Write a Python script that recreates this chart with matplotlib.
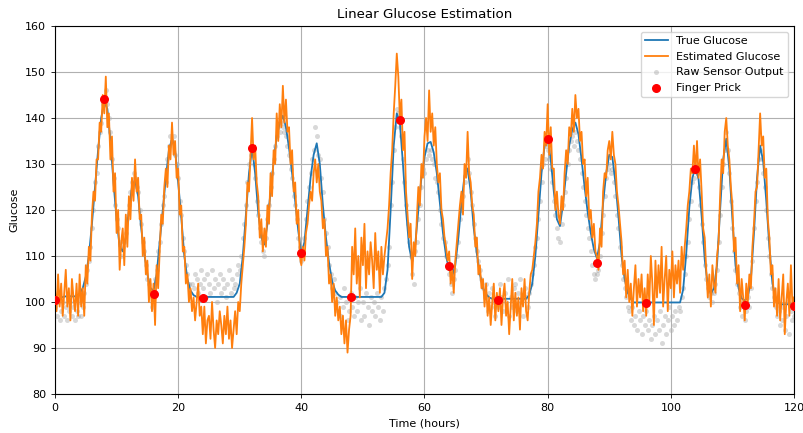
import numpy as np
import matplotlib
matplotlib.use("Agg")
import matplotlib.pyplot as plt

# true glucose (hours, mg/dL)
true_t = [0, 1, 2, 3, 3.5, 4, 4.5, 5, 5.5, 6, 6.5, 7, 7.5, 8, 8.5, 9, 9.5, 10, 10.5, 11, 11.5,
          12, 12.5, 13, 13.5, 14, 14.5, 15, 15.5, 16, 16.5, 17, 17.5, 18, 18.5, 19, 19.5, 20,
          20.5, 21, 21.5, 22, 22.5, 23, 29, 29.5, 30, 30.5, 31, 31.5, 32, 32.5, 33, 33.5, 34,
          34.5, 35, 35.5, 36, 36.5, 37, 37.5, 38, 38.5, 39, 39.5, 40, 40.5, 41, 41.5, 42, 42.5,
          43, 43.5, 44, 44.5, 45, 45.5, 46, 46.5, 53, 53.5, 54, 54.5, 55, 55.5, 56, 56.5, 57,
          57.5, 58, 58.5, 59, 59.5, 60, 60.5, 61, 61.5, 62, 62.5, 63, 63.5, 64, 64.5, 65, 65.5,
          66, 66.5, 67, 67.5, 68, 68.5, 69, 69.5, 70, 70.5, 71, 76.5, 77, 77.5, 78, 78.5, 79,
          79.5, 80, 80.5, 81, 81.5, 82, 82.5, 83, 83.5, 84, 84.5, 85, 85.5, 86, 86.5, 87, 87.5,
          88, 88.5, 89, 89.5, 90, 90.5, 91, 91.5, 92, 92.5, 93, 93.5, 94, 101.5, 102, 102.5,
          103, 103.5, 104, 104.5, 105, 105.5, 106, 106.5, 107, 107.5, 108, 108.5, 109, 109.5,
          110, 110.5, 111, 111.5, 112, 112.5, 113, 113.5, 114, 114.5, 115, 115.5, 116, 116.5,
          117, 117.5, 118, 120]
true_v = [100.5, 101, 101.3, 101.2, 101.3, 101.8, 103, 105.5, 110, 117, 125, 133, 140, 143.5, 142,
          135, 126, 118, 112, 111, 114, 120, 125, 126.5, 123, 116, 110.5, 106, 103, 102.5, 106,
          113, 120, 127, 133, 135.5, 133, 126, 118.5, 110, 105, 102.5, 101.5, 101.1, 101.1, 102,
          104, 110, 119, 128, 133.5, 128, 119.5, 114, 112.5, 117, 124, 130.5, 136, 139, 140.5,
          138, 133.5, 128, 122, 115.5, 110.5, 113, 120, 127, 132, 134.5, 130, 121, 114, 108.5,
          104.5, 102.5, 101.6, 101.1, 101.1, 102, 107, 120, 134, 141, 139, 130, 120, 112, 108.7,
          112.5, 120, 127, 131.5, 134.5, 134.8, 132.5, 128, 121.5, 115, 110, 107, 105.6, 108, 114,
          121.5, 127.5, 129, 124, 116, 110.5, 106, 103, 101.7, 101, 100.7, 100.7, 101.5, 104, 110,
          119, 128, 134, 135.5, 131, 124, 118, 116.5, 121.5, 128, 134, 137.5, 139, 136.5, 131,
          125, 119.5, 115, 111.5, 109.5, 113, 121.5, 128, 132, 131.5, 126, 118.5, 110, 105, 102,
          100.7, 99.9, 99.9, 102.7, 110.5, 120.5, 127, 129.2, 126.7, 118.7, 109.3, 103.5, 101.8,
          103, 108, 120, 131, 135.5, 129, 118, 108, 103, 100.8, 100.3, 101, 105, 115, 127, 134,
          130.5, 122, 112, 104, 100.8, 99.8, 99.5, 99.5]

# estimated glucose, one reading every 15 minutes (one row per hour)
estimated = [
    103, 98, 106, 99,    104, 97, 102, 107,   99, 103, 96, 105,    101, 98, 104, 97,
    106, 99, 103, 97,    108, 104, 112, 109,  119, 124, 122, 131,  131, 139, 137, 145,
    141, 149, 138, 141,  131, 136, 124, 128,  115, 120, 107, 113,  116, 108, 119, 112,
    123, 118, 127, 122,  131, 124, 127, 118,  119, 110, 114, 106,  109, 100, 105, 98,
    104, 95, 108, 103,   111, 119, 117, 125,  129, 125, 134, 131,  139, 132, 135, 127,
    129, 119, 121, 111,  112, 104, 106, 100,  103, 98, 101, 96,    100, 104, 97, 99,
    93, 99, 91, 96,      97, 92, 100, 94,     90, 96, 93, 98,      95, 91, 97, 93,
    99, 92, 96, 90,      94, 98, 93, 100,     98, 104, 108, 112,   117, 126, 124, 132,
    140, 131, 134, 126,  123, 114, 118, 111,  116, 112, 121, 117,  128, 123, 133, 130,
    141, 135, 143, 138,  147, 139, 144, 137,  138, 130, 133, 124,  126, 117, 120, 110,
    108, 112, 109, 115,  117, 121, 124, 122,  128, 131, 126, 130,  124, 122, 116, 118,
    110, 112, 104, 106,  100, 104, 97, 101,   96, 99, 93, 97,      91, 96, 89, 94,
    97, 112, 106, 116,   104, 110, 101, 114,  108, 117, 103, 111,  106, 113, 109, 103,
    115, 107, 111, 102,  112, 106, 110, 113,  116, 121, 128, 133,  141, 147, 154, 149,
    140, 144, 133, 137,  124, 119, 114, 117,  105, 113, 110, 118,  125, 121, 130, 127,
    136, 140, 135, 146,  137, 141, 134, 138,  130, 126, 128, 120,  118, 114, 112, 109,
    111, 104, 107, 102,  109, 113, 117, 121,  124, 119, 130, 127,  137, 128, 126, 121,
    119, 112, 114, 106,  108, 103, 105, 99,   104, 97, 101, 95,    100, 104, 96, 102,
    98, 103, 95, 101,    104, 97, 100, 93,    99, 105, 96, 102,    97, 101, 94, 103,
    99, 105, 98, 96,     102, 106, 107, 110,  113, 117, 124, 127,  132, 129, 137, 134,
    143, 132, 138, 129,  129, 120, 124, 119,  117, 123, 120, 128,  133, 130, 138, 136,
    142, 137, 145, 140,  142, 135, 137, 130,  131, 123, 127, 118,  120, 114, 117, 111,
    110, 107, 116, 112,  124, 128, 127, 133,  135, 131, 137, 132,  130, 124, 121, 117,
    113, 106, 109, 101,  107, 100, 104, 97,   103, 108, 99, 105,   101, 106, 98, 103,
    97, 106, 100, 110,   104, 95, 109, 101,   108, 102, 112, 99,   105, 110, 98, 107,
    103, 111, 101, 108,  104, 109, 102, 112,  107, 112, 116, 121,  124, 129, 128, 134,
    128, 135, 127, 131,  124, 116, 114, 107,  101, 106, 99, 108,   104, 102, 110, 113,
    123, 131, 128, 137,  140, 134, 131, 125,  121, 111, 114, 104,  108, 98, 105, 101,
    96, 104, 100, 106,   103, 112, 117, 124,  125, 133, 141, 134,  136, 127, 129, 118,
    114, 106, 108, 99,   103, 97, 105, 96,    101, 106, 93, 100,   104, 97, 108, 99,
    101]

# raw sensor output, same 15 minute grid
raw_sensor = [
    99, 97, 100, 96,     98, 100, 97, 99,     96, 98, 100, 97,     99, 96, 98, 97,
    100, 97, 99, 102,    104, 107, 109, 112,  116, 120, 126, 128,  134, 137, 139, 143,
    144, 146, 143, 140,  137, 131, 127, 121,  118, 116, 113, 110,  112, 113, 115, 118,
    121, 124, 126, 128,  127, 125, 124, 120,  117, 113, 111, 108,  105, 104, 102, 99,
    101, 105, 107, 111,  113, 117, 121, 123,  126, 131, 134, 136,  135, 136, 132, 130,
    127, 122, 119, 114,  111, 108, 106, 104,  102, 104, 103, 106,  105, 102, 104, 107,
    103, 105, 101, 106,  104, 102, 107, 103,  105, 100, 104, 106,  102, 105, 103, 101,
    104, 107, 102, 105,  103, 104, 106, 108,  107, 110, 114, 117,  121, 126, 130, 132,
    133, 130, 127, 122,  119, 116, 113, 111,  110, 114, 118, 121,  125, 128, 131, 134,
    136, 138, 137, 139,  138, 137, 136, 134,  132, 129, 127, 123,  121, 118, 114, 112,
    109, 111, 114, 118,  122, 125, 128, 131,  133, 138, 136, 132,  131, 127, 124, 118,
    115, 112, 108, 106,  103, 105, 102, 100,  98, 101, 97, 99,     103, 100, 96, 98,
    102, 99, 97, 101,    98, 100, 103, 96,    100, 97, 102, 99,    95, 101, 98, 100,
    97, 102, 99, 96,     101, 98, 103, 105,   108, 112, 121, 126,  133, 138, 142, 141,
    138, 136, 131, 126,  121, 117, 113, 110,  106, 104, 111, 113,  118, 121, 125, 129,
    128, 131, 133, 132,  133, 131, 130, 127,  126, 124, 120, 117,  114, 113, 110, 108,
    106, 104, 102, 105,  107, 110, 113, 118,  120, 123, 126, 129,  131, 128, 124, 121,
    117, 114, 111, 109,  107, 105, 103, 101,  104, 98, 102, 99,    103, 100, 97, 101,
    99, 104, 101, 98,    102, 100, 105, 97,   101, 99, 103, 104,   98, 102, 105, 100,
    97, 103, 101, 99,    102, 104, 106, 108,  112, 114, 118, 122,  126, 130, 131, 134,
    133, 131, 129, 126,  122, 119, 116, 114,  113, 117, 121, 124,  127, 130, 133, 135,
    136, 134, 137, 135,  133, 131, 128, 125,  122, 119, 116, 114,  111, 108, 106, 105,
    106, 107, 110, 115,  119, 123, 127, 129,  130, 128, 129, 126,  123, 119, 116, 112,
    108, 105, 103, 101,  99, 98, 96, 99,      95, 97, 94, 98,      96, 93, 97, 95,
    98, 94, 96, 92,      95, 97, 93, 96,      94, 98, 91, 95,      97, 93, 96, 99,
    94, 97, 95, 98,      96, 99, 98, 101,     103, 106, 110, 113,  118, 122, 126, 127,
    129, 128, 125, 121,  117, 113, 108, 105,  103, 101, 102, 100,  102, 104, 107, 113,
    119, 125, 130, 133,  137, 133, 128, 122,  116, 111, 107, 104,  102, 99, 97, 100,
    96, 98, 101, 99,     103, 109, 116, 122,  126, 131, 133, 131,  128, 125, 120, 114,
    110, 106, 103, 101,  99, 97, 98, 95,      96, 99, 94, 97,      100, 93, 98, 96,
    97]

# finger prick calibrations, every 8 hours
prick_t = [0, 8, 16, 24, 32, 40, 48, 56, 64, 72, 80, 88, 96, 104, 112, 120]
prick_v = [100.4, 144.1, 101.7, 100.9, 133.5, 110.7, 101.1, 139.6, 107.8, 100.4, 135.4,
           108.5, 99.8, 128.9, 99.3, 99.1]

sample_t = np.arange(len(estimated)) * 0.25

plt.rcParams['font.size'] = 8
fig = plt.figure(figsize=(8.04, 4.33), dpi=100)
ax = fig.add_axes([55 / 804, 39 / 433, 739 / 804, 368 / 433])

ax.plot(true_t, true_v, color='C0', lw=1.3, label='True Glucose')
ax.plot(sample_t, estimated, color='C1', lw=1.3, label='Estimated Glucose')
ax.scatter(sample_t, raw_sensor, color='gray', alpha=0.3, s=13, lw=0,
           label='Raw Sensor Output', zorder=1)
ax.scatter(prick_t, prick_v, color='red', s=30, zorder=3, label='Finger Prick')

ax.set_xlim(0, 120)
ax.set_ylim(80, 160)
ax.set_title('Linear Glucose Estimation', fontsize=9.6)
ax.set_xlabel('Time (hours)', fontsize=8)
ax.set_ylabel('Glucose', fontsize=8)
ax.tick_params(labelsize=8, length=2.8, width=0.6)
ax.grid(True, lw=0.8)
ax.legend(loc='upper right', fontsize=8)

fig.savefig('out.png', dpi=100)
